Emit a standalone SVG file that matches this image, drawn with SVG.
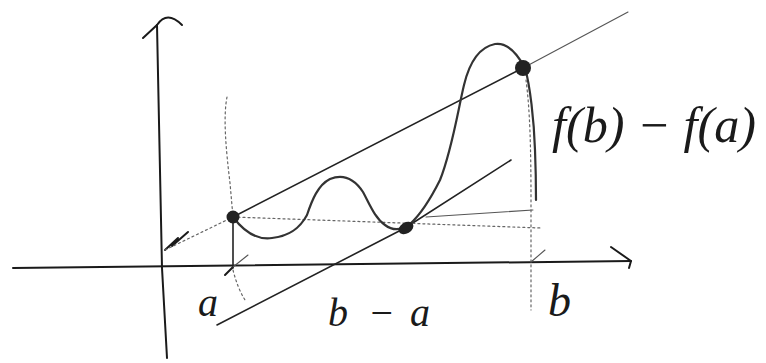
<svg xmlns="http://www.w3.org/2000/svg" width="766" height="363" viewBox="0 0 766 363">
<style>
.ax{fill:none;stroke:#1a1a1a;stroke-width:2;stroke-linecap:round;stroke-linejoin:round}
.ln{fill:none;stroke:#222;stroke-width:1.6;stroke-linecap:round;stroke-linejoin:round}
.thin{fill:none;stroke:#555;stroke-width:1.1;stroke-linecap:round}
.dot{fill:none;stroke:#666;stroke-width:1.2;stroke-dasharray:2 3;stroke-linecap:round}
.crv{fill:none;stroke:#333;stroke-width:2.2;stroke-linecap:round;stroke-linejoin:round}
.pt{fill:#222}
.lbl{font-family:"Liberation Serif",serif;font-style:italic;fill:#1a1a1a}
</style>
<rect width="766" height="363" fill="#fff"/>
<g id="axes">
<path class="ax" d="M13,268 L631,261"/>
<path class="ax" d="M611,247 L631,261 L629,268"/>
<path class="ax" d="M167,358 L162,268 L157,25"/>
<path class="ax" d="M143,38 L157,25 Q167,10 182,25"/>
<path class="ax" d="M165,250 L178,238 L172,246 L188,232"/>
</g>
<g id="connectors">
<path class="dot" d="M165,250 L233,217"/>
<path class="ln" d="M233,217 L523,68"/>
<path class="thin" d="M523,68 L628,12"/>
<path class="ln" d="M217,325 L405,228 L511,160"/>
<path class="dot" d="M233,217 L541,228"/>
<path class="thin" d="M426,217 L533,210"/>
<path class="dot" d="M227,97 C223,117 226,150 230,183 L233,217"/>
<path class="ln" d="M233,217 L233,268"/>
<path class="ax" d="M225,275 L233,267"/>
<path class="thin" d="M233,267 L248,255"/>
<path class="dot" d="M233,270 C236,282 240,292 245,300"/>
<path class="dot" d="M526,80 C530,110 531,150 531,200 L531,310"/>
<path class="thin" d="M531,262 L545,250"/>
</g>
<g id="curve">
<path class="crv" d="M233,217 C245,233 258,240 272,238 C290,236 300,228 307,215 C312,200 318,185 330,179 C345,173 355,180 363,192 C370,205 375,218 385,225 C393,231 402,230 410,224 C420,215 430,200 440,180 C452,150 458,110 464,85 C470,60 480,47 495,44 C508,42 518,55 525,68 C530,85 534,120 535,150 C536,175 536,190 536,200"/>
</g>
<g id="points">
<circle class="pt" cx="233" cy="217" r="6.5"/>
<circle class="pt" cx="523" cy="68" r="8"/>
<ellipse class="pt" cx="406" cy="228" rx="8" ry="5.5" transform="rotate(-30 406 228)"/>
</g>
<g id="labels">
<text class="lbl" x="198" y="316" font-size="40">a</text>
<text class="lbl" y="326" font-size="40"><tspan x="328">b</tspan><tspan x="368">−</tspan><tspan x="410">a</tspan></text>
<text class="lbl" x="548" y="316" font-size="46">b</text>
<text class="lbl" x="552" y="142" font-size="50" textLength="204" lengthAdjust="spacingAndGlyphs">f(b) − f(a)</text>
</g>
</svg>
